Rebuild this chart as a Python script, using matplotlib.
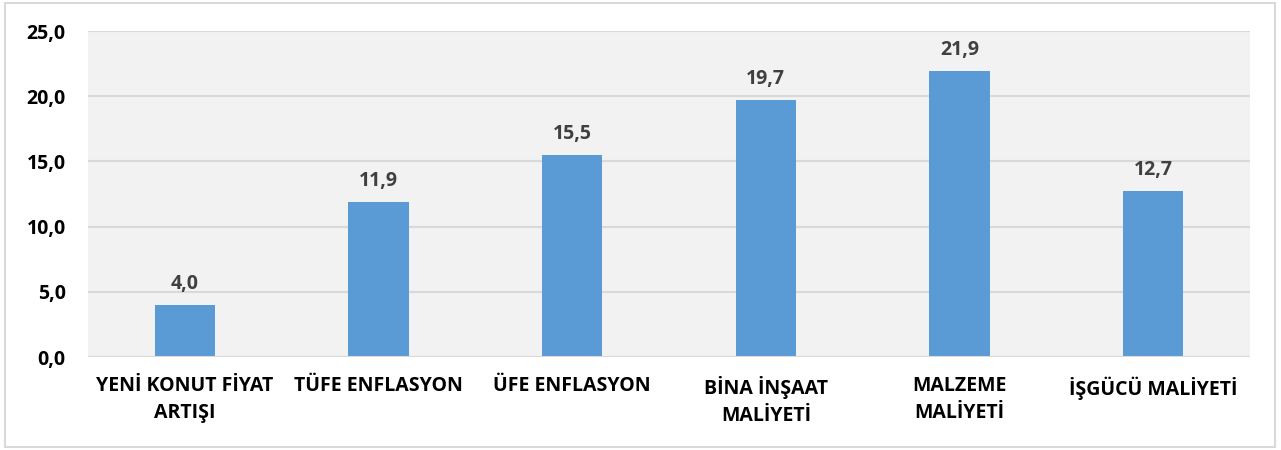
import matplotlib
matplotlib.use("Agg")
import matplotlib.pyplot as plt
from matplotlib.patches import Rectangle

categories = ["YENİ KONUT FİYAT\nARTIŞI", "TÜFE ENFLASYON", "ÜFE ENFLASYON",
              "BİNA İNŞAAT\nMALİYETİ", "MALZEME\nMALİYETİ", "İŞGÜCÜ MALİYETİ"]
values = [4.0, 11.9, 15.5, 19.7, 21.9, 12.7]
yticks = [0, 5, 10, 15, 20, 25]

plt.rcParams['font.family'] = ['Open Sans', 'DejaVu Sans']
FS = 14

fig = plt.figure(figsize=(12.81, 4.5), dpi=100)
fig.patches.append(Rectangle((5/1281, 3/450), 1270/1281, 444/450, transform=fig.transFigure,
                             fill=False, edgecolor='#D9D9D9', linewidth=1.5))
ax = fig.add_axes([88/1281, 1-357/450, (1250-88)/1281, (357-31)/450])
ax.set_facecolor('#F2F2F2')
x = list(range(len(categories)))
ax.bar(x, values, width=0.31, color='#5B9BD5', zorder=3)
ax.set_xlim(-0.5, len(categories)-0.5)
ax.set_ylim(0, 25)
ax.set_yticks(yticks)
ax.set_yticklabels([f"{v:.1f}".replace('.', ',') for v in yticks],
                   fontsize=FS, fontweight='bold', color='black')
ax.set_xticks(x)
ax.set_xticklabels(categories, fontsize=FS, fontweight='bold', color='black', linespacing=1.42)
ax.tick_params(axis='both', length=0)
ax.tick_params(axis='y', pad=16)
ax.tick_params(axis='x', pad=14)
ax.grid(axis='y', color='#D9D9D9', linewidth=1.5, zorder=0)
for s in ax.spines.values():
    s.set_visible(False)
ax.axhline(0, color='#D9D9D9', linewidth=1.5, zorder=4)
for xi, v in zip(x, values):
    ax.annotate(f"{v:.1f}".replace('.', ','), (xi, v), xytext=(0, 8), textcoords='offset points',
                ha='center', va='bottom', fontsize=FS, fontweight='bold', color='#404040')
fig.savefig('out.png', dpi=100)
